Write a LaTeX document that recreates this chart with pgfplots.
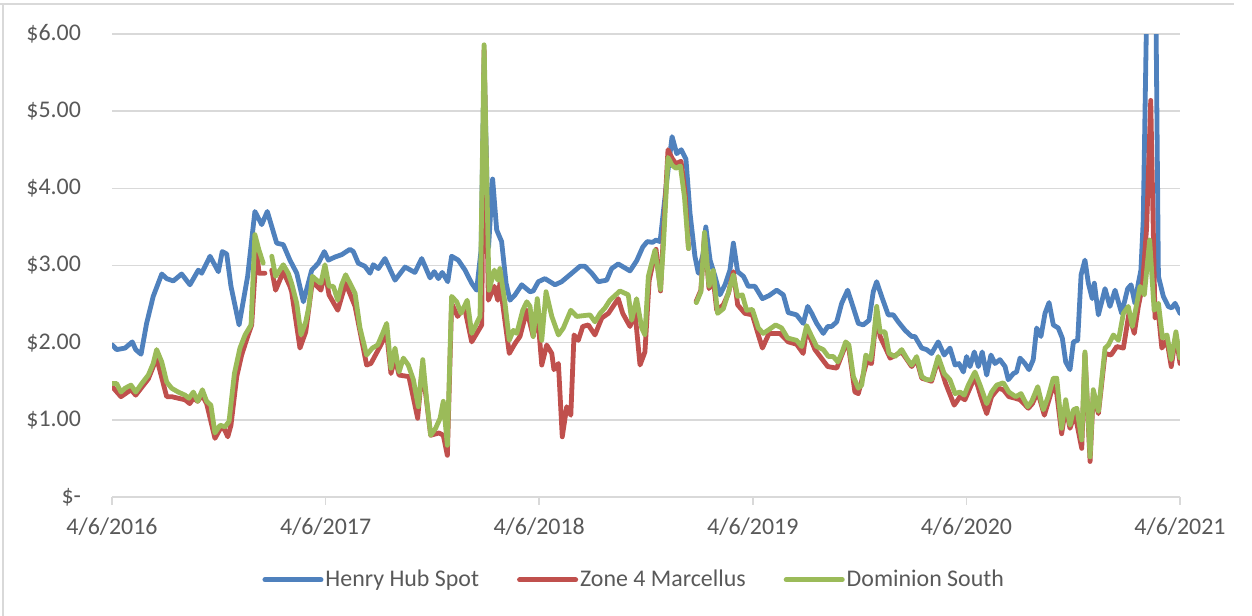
\documentclass[border=0pt]{standalone}
\usepackage{pgfplots}
\pgfplotsset{compat=1.18}
\usepackage{fontspec}
\setmainfont{Carlito}
\definecolor{hh}{HTML}{4F81BD}
\definecolor{zm}{HTML}{C0504D}
\definecolor{ds}{HTML}{9BBB59}
\definecolor{txt}{HTML}{595959}
\definecolor{grd}{HTML}{D9D9D9}
\begin{document}
\begin{tikzpicture}
\useasboundingbox (0,0) rectangle (626bp,308bp);
\fill[white] (0,0) rectangle (626bp,308bp);
\draw[grd, line width=0.75bp] (0,306bp) -- (617bp,306bp);
\draw[grd, line width=0.75bp] (1.5bp,306bp) -- (1.5bp,0);
\begin{axis}[
  at={(56bp,59.5bp)}, anchor=south west,
  scale only axis, width=534bp, height=231.5bp,
  xmin=0, xmax=5, ymin=0, ymax=6,
  axis x line=bottom, axis y line=left,
  x axis line style={draw=grd, line width=0.75bp, -},
  y axis line style={draw=none},
  xtick={0,1,2,3,4,5},
  xticklabels={4/6/2016,4/6/2017,4/6/2018,4/6/2019,4/6/2020,4/6/2021},
  ytick={0,1,2,3,4,5,6},
  yticklabels={\$-,\$1.00,\$2.00,\$3.00,\$4.00,\$5.00,\$6.00},
  tick align=outside, major tick length=4bp,
  xtick style={draw=grd, line width=0.75bp},
  ytick style={draw=none},
  ymajorgrids, grid style={draw=grd, line width=0.75bp},
  tick label style={font=\fontsize{12}{14}\selectfont, text=txt},
  yticklabel style={xshift=-8bp},
  xticklabel style={yshift=-3bp},
  unbounded coords=jump,
  legend style={at={(0.489,-0.179)}, anchor=center, draw=none, fill=none,
    legend columns=3, font=\fontsize{12}{14}\selectfont, text=txt,
    /tikz/every even column/.append style={column sep=18bp},
    nodes={inner sep=1bp}},
  legend image code/.code={\draw[#1, line width=2.5bp] (0bp,0bp) -- (28bp,0bp);},
  every axis plot/.append style={line width=2.4bp, line join=round, line cap=round},
]
\addplot[hh, mark=none] coordinates {
(0.001,1.97)(0.022,1.91)(0.061,1.93)(0.095,2.01)(0.111,1.91)(0.136,1.85)(0.162,2.25)(0.193,2.60)(0.233,2.89)(0.256,2.83)(0.287,2.80)(0.326,2.89)(0.365,2.75)(0.404,2.94)(0.420,2.90)(0.459,3.12)(0.498,2.92)(0.516,3.18)(0.537,3.15)(0.557,2.73)(0.595,2.23)(0.635,2.86)(0.669,3.70)(0.701,3.53)(0.727,3.70)(0.771,3.29)(0.802,3.27)(0.833,3.07)(0.865,2.90)(0.896,2.53)(0.935,2.94)(0.966,3.03)(0.994,3.18)(1.013,3.07)(1.044,3.11)(1.075,3.14)(1.114,3.21)(1.130,3.18)(1.153,3.03)(1.184,2.99)(1.208,2.90)(1.223,3.01)(1.247,2.96)(1.278,3.09)(1.325,2.81)(1.372,2.98)(1.418,2.91)(1.450,3.09)(1.489,2.84)(1.509,2.92)(1.528,2.83)(1.546,2.91)(1.572,2.79)(1.590,3.12)(1.621,3.07)(1.653,2.94)(1.684,2.77)(1.707,2.68)(1.728,3.2)(1.742,5.6)(1.763,3.24)(1.782,4.12)(1.801,3.46)(1.824,3.31)(1.845,2.77)(1.863,2.55)(1.887,2.62)(1.918,2.75)(1.957,2.66)(1.972,2.67)(1.996,2.79)(2.027,2.83)(2.074,2.75)(2.105,2.79)(2.144,2.88)(2.191,2.99)(2.214,2.99)(2.246,2.90)(2.277,2.79)(2.316,2.81)(2.339,2.96)(2.370,3.02)(2.425,2.93)(2.456,3.06)(2.485,3.24)(2.506,3.31)(2.531,3.30)(2.547,3.33)(2.566,3.31)(2.597,4.09)(2.622,4.67)(2.644,4.45)(2.665,4.50)(2.687,4.38)(2.706,3.68)(2.729,3.12)(2.745,2.90)(2.768,3.16)(2.780,3.50)(2.800,3.07)(2.823,2.86)(2.846,2.62)(2.870,2.75)(2.893,2.94)(2.909,3.29)(2.929,2.92)(2.956,2.86)(2.979,2.73)(3.010,2.73)(3.045,2.57)(3.076,2.61)(3.112,2.68)(3.143,2.62)(3.166,2.39)(3.205,2.36)(3.236,2.25)(3.257,2.47)(3.276,2.38)(3.299,2.25)(3.330,2.12)(3.351,2.21)(3.369,2.21)(3.393,2.27)(3.416,2.51)(3.444,2.68)(3.471,2.45)(3.494,2.25)(3.517,2.23)(3.544,2.29)(3.564,2.66)(3.580,2.79)(3.603,2.60)(3.634,2.36)(3.658,2.36)(3.681,2.27)(3.713,2.16)(3.744,2.08)(3.759,2.08)(3.791,1.93)(3.814,1.91)(3.837,1.86)(3.868,2.01)(3.896,1.84)(3.923,1.93)(3.947,1.71)(3.965,1.73)(3.986,1.62)(4.001,1.82)(4.017,1.69)(4.037,1.88)(4.056,1.69)(4.074,1.88)(4.095,1.58)(4.115,1.84)(4.134,1.73)(4.157,1.78)(4.181,1.69)(4.196,1.52)(4.220,1.60)(4.235,1.62)(4.251,1.80)(4.274,1.73)(4.293,1.65)(4.313,1.78)(4.329,2.19)(4.349,2.08)(4.368,2.38)(4.387,2.52)(4.407,2.23)(4.430,2.19)(4.449,2.06)(4.465,1.75)(4.485,1.65)(4.501,2.01)(4.521,2.03)(4.537,2.88)(4.555,3.07)(4.571,2.77)(4.589,2.57)(4.599,2.77)(4.618,2.36)(4.649,2.70)(4.672,2.47)(4.696,2.68)(4.727,2.38)(4.755,2.70)(4.771,2.75)(4.789,2.51)(4.805,2.77)(4.817,2.94)(4.828,3.59)(4.848,7.0)(4.867,9.0)(4.885,7.0)(4.899,2.86)(4.922,2.60)(4.945,2.47)(4.961,2.45)(4.977,2.51)(5.000,2.38)
};
\addlegendentry{Henry Hub Spot}
\addplot[zm, mark=none] coordinates {
(0.001,1.43)(0.042,1.30)(0.089,1.39)(0.111,1.32)(0.170,1.53)(0.209,1.80)(0.256,1.30)(0.279,1.30)(0.310,1.28)(0.342,1.26)(0.364,1.21)(0.381,1.28)(0.401,1.24)(0.423,1.32)(0.443,1.21)(0.482,0.76)(0.506,0.88)(0.524,0.89)(0.542,0.78)(0.557,0.93)(0.584,1.56)(0.607,1.84)(0.635,2.08)(0.654,2.23)(0.677,3.24)(0.688,2.90)(0.716,2.90)(0.73,nan)(0.748,2.94)(0.766,2.68)(0.802,2.92)(0.833,2.73)(0.841,2.66)(0.880,1.93)(0.907,2.14)(0.938,2.79)(0.978,2.68)(0.997,2.92)(1.016,2.62)(1.057,2.42)(1.094,2.77)(1.138,2.47)(1.192,1.71)(1.212,1.73)(1.247,1.91)(1.286,2.12)(1.306,1.60)(1.325,1.80)(1.344,1.58)(1.390,1.56)(1.431,1.02)(1.453,1.69)(1.492,0.80)(1.531,0.83)(1.551,0.80)(1.570,0.54)(1.590,2.51)(1.618,2.34)(1.637,2.42)(1.653,2.42)(1.684,2.01)(1.731,2.23)(1.742,5.79)(1.762,2.55)(1.790,2.73)(1.806,2.55)(1.816,2.77)(1.860,1.86)(1.887,1.99)(1.910,2.08)(1.942,2.42)(1.972,2.08)(1.991,2.42)(2.012,1.71)(2.035,1.97)(2.059,1.86)(2.069,1.65)(2.090,1.73)(2.108,0.78)(2.129,1.17)(2.148,1.06)(2.163,2.10)(2.183,2.03)(2.204,2.21)(2.230,2.23)(2.261,2.10)(2.293,2.32)(2.324,2.38)(2.370,2.57)(2.391,2.38)(2.425,2.21)(2.449,2.38)(2.472,1.71)(2.495,1.88)(2.515,2.81)(2.547,3.21)(2.568,2.67)(2.581,3.37)(2.603,4.50)(2.622,4.39)(2.640,4.32)(2.664,4.35)(2.683,3.94)(2.699,3.22)(2.715,nan)(2.734,2.53)(2.757,2.68)(2.774,3.40)(2.795,2.70)(2.814,2.85)(2.831,2.42)(2.862,2.49)(2.886,2.64)(2.909,2.92)(2.929,2.49)(2.963,2.38)(2.998,2.36)(3.026,2.10)(3.045,1.93)(3.076,2.12)(3.127,2.12)(3.166,2.01)(3.205,1.98)(3.236,1.86)(3.252,2.18)(3.291,1.91)(3.351,1.69)(3.393,1.67)(3.435,1.97)(3.450,1.92)(3.478,1.36)(3.494,1.34)(3.533,1.75)(3.556,1.73)(3.580,2.38)(3.596,2.08)(3.643,1.80)(3.697,1.88)(3.744,1.69)(3.767,1.78)(3.791,1.54)(3.837,1.50)(3.868,1.78)(3.903,1.47)(3.943,1.19)(3.970,1.30)(3.993,1.26)(4.040,1.56)(4.068,1.30)(4.095,1.08)(4.118,1.30)(4.150,1.41)(4.173,1.39)(4.199,1.30)(4.228,1.28)(4.251,1.26)(4.290,1.15)(4.309,1.21)(4.334,1.36)(4.365,1.06)(4.407,1.45)(4.423,1.34)(4.446,0.82)(4.465,1.17)(4.485,0.89)(4.508,1.08)(4.540,0.63)(4.555,1.86)(4.579,0.46)(4.594,1.34)(4.618,1.08)(4.649,1.86)(4.677,1.84)(4.704,1.95)(4.735,1.93)(4.761,2.38)(4.786,2.12)(4.805,2.47)(4.824,2.73)(4.844,3.50)(4.863,5.14)(4.883,2.32)(4.899,2.38)(4.915,1.93)(4.939,2.03)(4.959,1.69)(4.981,2.10)(5.000,1.73)
};
\addlegendentry{Zone 4 Marcellus}
\addplot[ds, mark=none] coordinates {
(0.001,1.47)(0.022,1.47)(0.042,1.36)(0.061,1.41)(0.089,1.45)(0.111,1.36)(0.139,1.47)(0.170,1.58)(0.193,1.73)(0.209,1.91)(0.233,1.75)(0.256,1.49)(0.279,1.41)(0.310,1.36)(0.342,1.32)(0.360,1.28)(0.381,1.36)(0.401,1.24)(0.423,1.39)(0.443,1.24)(0.463,1.19)(0.482,0.83)(0.506,0.93)(0.529,0.91)(0.548,0.98)(0.573,1.60)(0.599,1.93)(0.623,2.10)(0.651,2.23)(0.669,3.40)(0.688,3.20)(0.708,3.03)(0.73,nan)(0.748,3.12)(0.766,2.86)(0.802,3.01)(0.825,2.90)(0.841,2.77)(0.865,2.51)(0.885,2.10)(0.907,2.27)(0.922,2.47)(0.938,2.86)(0.958,2.81)(0.978,2.77)(0.997,3.01)(1.016,2.73)(1.036,2.73)(1.057,2.55)(1.075,2.75)(1.094,2.88)(1.114,2.77)(1.138,2.64)(1.161,2.19)(1.192,1.84)(1.219,1.93)(1.244,1.97)(1.270,2.14)(1.286,2.25)(1.306,1.67)(1.325,1.93)(1.344,1.62)(1.364,1.80)(1.387,1.71)(1.411,1.52)(1.434,1.17)(1.455,1.78)(1.473,1.26)(1.492,0.80)(1.515,0.89)(1.536,1.02)(1.551,1.24)(1.570,0.67)(1.590,2.60)(1.614,2.53)(1.634,2.38)(1.663,2.55)(1.684,2.12)(1.723,2.34)(1.742,5.86)(1.765,2.68)(1.790,2.94)(1.806,2.81)(1.816,2.96)(1.840,2.51)(1.860,2.03)(1.879,2.16)(1.895,2.12)(1.923,2.42)(1.942,2.53)(1.957,2.47)(1.972,2.08)(1.991,2.57)(2.012,2.03)(2.032,2.66)(2.059,2.34)(2.090,2.10)(2.113,2.19)(2.148,2.42)(2.176,2.34)(2.238,2.36)(2.261,2.27)(2.285,2.38)(2.308,2.45)(2.331,2.55)(2.378,2.67)(2.417,2.62)(2.433,2.29)(2.456,2.57)(2.480,2.19)(2.495,2.10)(2.511,2.86)(2.542,3.20)(2.568,2.69)(2.581,3.24)(2.603,4.40)(2.622,4.30)(2.640,4.26)(2.661,4.29)(2.680,3.89)(2.699,3.22)(2.715,nan)(2.736,2.52)(2.757,2.66)(2.774,3.43)(2.795,2.73)(2.815,2.94)(2.835,2.38)(2.862,2.44)(2.886,2.65)(2.909,2.88)(2.929,2.60)(2.951,2.62)(2.971,2.42)(2.998,2.43)(3.026,2.19)(3.049,2.12)(3.076,2.17)(3.107,2.23)(3.135,2.19)(3.163,2.06)(3.205,2.03)(3.229,1.95)(3.252,2.22)(3.276,2.08)(3.299,1.95)(3.330,1.91)(3.354,1.82)(3.377,1.82)(3.398,1.75)(3.416,1.86)(3.435,2.01)(3.450,1.97)(3.471,1.56)(3.494,1.41)(3.510,1.45)(3.529,1.84)(3.552,1.78)(3.564,2.01)(3.580,2.47)(3.596,2.14)(3.619,2.14)(3.638,1.86)(3.666,1.82)(3.697,1.91)(3.725,1.78)(3.744,1.71)(3.767,1.82)(3.791,1.56)(3.814,1.52)(3.837,1.52)(3.868,1.82)(3.896,1.60)(3.923,1.52)(3.947,1.34)(3.970,1.36)(3.990,1.32)(4.009,1.45)(4.040,1.62)(4.064,1.45)(4.095,1.21)(4.118,1.36)(4.142,1.45)(4.173,1.48)(4.199,1.36)(4.231,1.30)(4.256,1.34)(4.287,1.17)(4.306,1.24)(4.334,1.43)(4.360,1.13)(4.383,1.30)(4.407,1.54)(4.423,1.54)(4.446,0.89)(4.465,1.26)(4.485,0.93)(4.501,1.13)(4.517,1.15)(4.540,0.74)(4.555,1.88)(4.579,0.52)(4.594,1.39)(4.618,1.11)(4.649,1.93)(4.665,1.97)(4.688,2.10)(4.712,2.03)(4.735,2.38)(4.758,2.47)(4.777,2.21)(4.798,2.51)(4.813,2.73)(4.833,2.62)(4.858,3.33)(4.879,2.42)(4.899,2.51)(4.918,2.06)(4.939,2.10)(4.959,1.78)(4.981,2.14)(5.000,1.80)
};
\addlegendentry{Dominion South}
\end{axis}
\end{tikzpicture}
\end{document}
